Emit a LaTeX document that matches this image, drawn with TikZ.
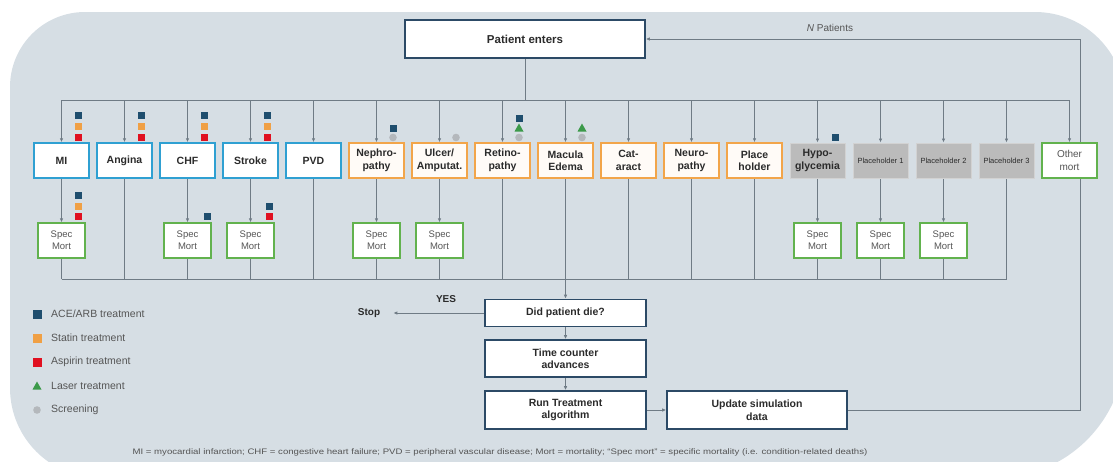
\documentclass[tikz,border=0pt]{standalone}
\usepackage{fontspec}
\usepackage{graphicx}
\setmainfont{Liberation Sans}
\usetikzlibrary{arrows.meta}
\definecolor{bgc}{HTML}{D6DEE4}
\definecolor{linec}{HTML}{6F7B85}
\definecolor{flowc}{HTML}{2C4A66}
\definecolor{bluec}{HTML}{2FA0D2}
\definecolor{orangec}{HTML}{F2A54A}
\definecolor{greenc}{HTML}{62B24E}
\definecolor{greyfill}{HTML}{BBBBBB}
\definecolor{greydraw}{HTML}{D2D2D2}
\definecolor{txtc}{HTML}{2B2B2B}
\definecolor{softtxt}{HTML}{555555}
\definecolor{aceC}{HTML}{1F4E6E}
\definecolor{statC}{HTML}{F0A045}
\definecolor{aspC}{HTML}{E01020}
\definecolor{lasC}{HTML}{3C9A4A}
\definecolor{scrC}{HTML}{B4B8BC}
\pgfdeclarelayer{bglayer}
\pgfdeclarelayer{linelayer}
\pgfsetlayers{bglayer,linelayer,main}
\newcommand{\sqm}[3]{\fill[#1] (#2,#3) ++(-3.5,-3.5) rectangle ++(7,7);}
\newcommand{\bigsq}[3]{\fill[#1] (#2,#3) ++(-4.5,-4.5) rectangle ++(9,9);}
\newcommand{\circm}[3]{\fill[#1] (#2,#3) circle[radius=3.8pt];}
\newcommand{\trim}[2]{\fill[lasC] (#1,#2) ++(0,-4.5) -- ++(4.5,8) -- ++(-9,0) -- cycle;}
\begin{document}
\begin{tikzpicture}[x=1pt,y=-1pt,
  ln/.style={draw=linec, line width=0.8pt},
  arr/.style={ln, -{Latex[length=4pt,width=3.5pt]}},
  base/.style={align=center, inner sep=1pt, text=txtc},
  bfont/.style={font=\bfseries\fontsize{10.5}{12.5}\selectfont},
  flowbox/.style={base, bfont, draw=flowc, line width=1.6pt, fill=white},
  dz/.style={base, bfont, line width=1.5pt, fill=white, minimum width=55pt, minimum height=35pt},
  dblue/.style={dz, draw=bluec},
  dorange/.style={dz, draw=orangec, fill=orange!3},
  dgrey/.style={dz, draw=greydraw, line width=1pt, fill=greyfill},
  dgreen/.style={dz, draw=greenc, font=\fontsize{10}{12.5}\selectfont, text=softtxt},
  specbox/.style={base, draw=greenc, line width=1.3pt, fill=white, minimum width=47pt, minimum height=35pt, font=\fontsize{9.5}{12}\selectfont, text=softtxt},
  phfont/.style={font=\fontsize{7.5}{9}\selectfont},
  leg/.style={base, anchor=west, font=\fontsize{10.5}{12}\selectfont, text=softtxt},
  lbl/.style={base, font=\bfseries\fontsize{10}{12}\selectfont}
]
\useasboundingbox (0,0) rectangle (1113,461);
% background
\begin{pgfonlayer}{bglayer}
\begin{scope}[y=1pt, yshift=-461pt]
\clip (0,0) rectangle (1113,461);
\fill[bgc] (10,200) -- (10,374) arc[start angle=180,end angle=90,radius=75pt] -- (1035,449)
  arc[start angle=90,end angle=0,radius=90pt] -- (1125,113)
  arc[start angle=0,end angle=-90,radius=130pt] -- (100,-17)
  arc[start angle=270,end angle=180,radius=90pt] -- cycle;
\end{scope}
\end{pgfonlayer}

% flow boxes
\node[flowbox, font=\bfseries\fontsize{11.5}{13}\selectfont, minimum width=240pt, minimum height=38pt] (pe) at (525,39) {Patient enters};
\node[flowbox, minimum width=161pt, minimum height=27pt] (did) at (565.5,313) {Did patient die?};
\node[flowbox, minimum width=161pt, minimum height=37pt] (time) at (565.5,358.5) {Time counter\\advances};
\node[flowbox, minimum width=161pt, minimum height=38pt] (run) at (565.5,410) {Run Treatment\\algorithm};
\node[flowbox, minimum width=180pt, minimum height=38pt] (upd) at (757,410) {Update simulation\\data};

% disease row
\node[dblue] (d0) at (61.5,160.5) {MI};
\node[dblue] (d1) at (124.5,160.5) {Angina};
\node[dblue] (d2) at (187.5,160.5) {CHF};
\node[dblue] (d3) at (250.5,160.5) {Stroke};
\node[dblue] (d4) at (313.5,160.5) {PVD};
\node[dorange] (d5) at (376.5,160.5) {Nephro-\\pathy};
\node[dorange] (d6) at (439.5,160.5) {Ulcer/\\Amputat.};
\node[dorange] (d7) at (502.5,160.5) {Retino-\\pathy};
\node[dorange] (d8) at (565.5,160.5) {Macula\\Edema};
\node[dorange] (d9) at (628.5,160.5) {Cat-\\aract};
\node[dorange] (d10) at (691.5,160.5) {Neuro-\\pathy};
\node[dorange] (d11) at (754.5,160.5) {Place\\holder};
\node[dgrey] (d12) at (817.5,160.5) {Hypo-\\glycemia};
\node[dgrey, phfont] (d13) at (880.5,160.5) {Placeholder 1};
\node[dgrey, phfont] (d14) at (943.5,160.5) {Placeholder 2};
\node[dgrey, phfont] (d15) at (1006.5,160.5) {Placeholder 3};
\node[dgreen] (d16) at (1069.5,160.5) {Other\\mort};

% spec mort row
\foreach \k in {0,2,3,5,6,12,13,14}{
  \node[specbox] (s\k) at ({61.5+63*\k},240.5) {Spec\\Mort};
}

% labels
\node[lbl] (stop) at (369,313) {Stop};
\node[lbl] (yes) at (446,299) {YES};
\node[base, font=\fontsize{10}{12}\selectfont, text=softtxt] (np) at (830,28) {\textit{N} Patients};

% legend
\bigsq{aceC}{37}{314}
\node[leg] (l1) at (50,314) {ACE/ARB treatment};
\bigsq{statC}{37}{338}
\node[leg] (l2) at (50,338) {Statin treatment};
\bigsq{aspC}{37}{362}
\node[leg] (l3) at (50,362) {Aspirin treatment};
\trim{37}{386}
\node[leg] (l4) at (50,386) {Laser treatment};
\circm{scrC}{37}{410}
\node[leg] (l5) at (50,410) {Screening};

% footnote
\node[base, font=\fontsize{8}{9}\selectfont, text=softtxt] (fn) at (500,452) {\scalebox{1.2}[1]{MI = myocardial infarction; CHF = congestive heart failure; PVD = peripheral vascular disease; Mort = mortality; ``Spec mort'' = specific mortality (i.e. condition-related deaths)}};

% treatment markers, top row
\foreach \k in {0,1,2,3}{
  \sqm{aceC}{78+63*\k}{115}
  \sqm{statC}{78+63*\k}{126}
  \sqm{aspC}{78+63*\k}{137}
}
\sqm{aceC}{393}{128}
\circm{scrC}{393}{137.5}
\circm{scrC}{456}{137.5}
\sqm{aceC}{519}{118}
\trim{519}{128}
\circm{scrC}{519}{137.5}
\trim{582}{128}
\circm{scrC}{582}{137.5}
\sqm{aceC}{835}{137}
% spec mort markers
\sqm{aceC}{78}{195}
\sqm{statC}{78}{206}
\sqm{aspC}{78}{216}
\sqm{aceC}{207}{216}
\sqm{aceC}{269}{206}
\sqm{aspC}{269}{216}

% connectors
\begin{pgfonlayer}{linelayer}
\foreach \k in {0,...,16}{
  \coordinate (t\k) at ({61.5+63*\k},100);
}
\foreach \k in {0,...,15}{
  \coordinate (b\k) at ({61.5+63*\k},279);
}
\coordinate (fb) at (1080,39);
\draw[ln] (pe.south) -- (pe.south |- t0);
\draw[ln] (t0) -- (t16);
\foreach \k in {0,...,16}{
  \draw[arr] (t\k) -- (d\k.north);
}
\foreach \k in {0,2,3,5,6,12,13,14}{
  \draw[arr] (d\k.south) -- (s\k.north);
  \draw[ln] (s\k.south) -- (b\k);
}
\foreach \k in {1,4,7,8,9,10,11,15}{
  \draw[ln] (d\k.south) -- (b\k);
}
\draw[ln] (b0) -- (b15);
\draw[arr] (b8) -- (did.north);
\draw[arr] (did.south) -- (time.north);
\draw[arr] (time.south) -- (run.north);
\draw[arr] (run.east) -- (upd.west);
\draw[arr] (upd.east) -- (upd.east -| fb) -- (fb) -- (pe.east);
\draw[arr, shorten >=12pt] (did.west) -- (stop.east);
\end{pgfonlayer}
\end{tikzpicture}
\end{document}
